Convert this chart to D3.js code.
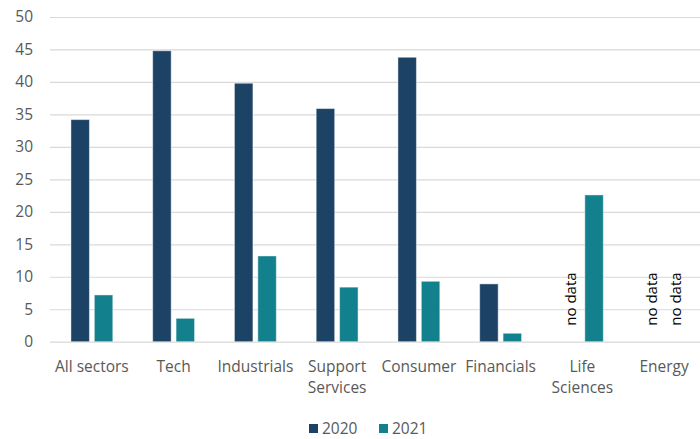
<!DOCTYPE html>
<html>
<head>
<meta charset="utf-8">
<script src="https://cdn.jsdelivr.net/npm/d3@7"></script>
<style>
  html, body { margin: 0; padding: 0; background: #ffffff; }
  svg { display: block; font-family: "Open Sans", sans-serif; }
</style>
</head>
<body>
<svg id="chart" width="700" height="439"></svg>
<script>
// Sectors along the x axis (line breaks marked with \n)
const categories = ["All sectors", "Tech", "Industrials", "Support\nServices", "Consumer", "Financials", "Life\nSciences", "Energy"];
// Series: null means no data reported for that sector/year
const seriesNames = ["2020", "2021"];
const values2020 = [34.2, 44.8, 39.8, 35.9, 43.8, 8.9, null, null];
const values2021 = [7.2, 3.6, 13.2, 8.4, 9.3, 1.3, 22.6, null];
const yTicks = [0, 5, 10, 15, 20, 25, 30, 35, 40, 45, 50];
const noDataLabel = "no data";

const colors = { "2020": "#1c4266", "2021": "#13808d" };
const textGray = "#595959";

const svg = d3.select("#chart");

const gridLeft = 50, gridRight = 700;
const y = d3.scaleLinear().domain([0, 50]).range([341.7, 17]);

const x0 = d3.scaleBand()
  .domain(categories)
  .range([51, 705])
  .paddingInner(0.488)
  .paddingOuter(0.244);

const x1 = d3.scaleBand()
  .domain(seriesNames)
  .range([0, x0.bandwidth()])
  .paddingInner(0.21);

// Horizontal gridlines with value labels
const yAxis = d3.axisLeft(y)
  .tickValues(yTicks)
  .tickSize(-(gridRight - gridLeft))
  .tickPadding(17)
  .tickFormat(d3.format("d"));

const gAxis = svg.append("g")
  .attr("transform", `translate(${gridLeft},0)`)
  .call(yAxis);
gAxis.select(".domain").remove();
gAxis.selectAll(".tick line").attr("stroke", "#d9d9d9").attr("stroke-width", 1.2);
gAxis.selectAll(".tick text")
  .attr("fill", textGray)
  .attr("font-size", "15.5px")
  .attr("font-family", "'Open Sans', sans-serif");

// Bars
const rows = categories.map((c, i) => ({ cat: c, vals: [
  { key: "2020", v: values2020[i] },
  { key: "2021", v: values2021[i] }
]}));

const groups = svg.append("g").selectAll("g")
  .data(rows)
  .join("g")
  .attr("transform", d => `translate(${x0(d.cat)},0)`);

groups.selectAll("rect")
  .data(d => d.vals.filter(e => e.v !== null))
  .join("rect")
  .attr("x", d => x1(d.key))
  .attr("width", x1.bandwidth())
  .attr("y", d => y(d.v))
  .attr("height", d => y(0) - y(d.v))
  .attr("fill", d => colors[d.key])
  .attr("stroke", "#ffffff")
  .attr("stroke-opacity", 0.45)
  .attr("stroke-width", 1);

// Vertical "no data" labels for missing values
groups.selectAll("text.nodata")
  .data(d => d.vals.filter(e => e.v === null))
  .join("text")
  .attr("class", "nodata")
  .attr("transform", d => `translate(${x1(d.key) + x1.bandwidth() / 2},${y(0) - 16}) rotate(-90)`)
  .attr("dy", "0.33em")
  .attr("fill", "#000000")
  .attr("font-size", "15px")
  .text(noDataLabel);

// Category labels
const xLabels = svg.append("g").selectAll("text")
  .data(categories)
  .join("text")
  .attr("x", d => x0(d) + x0.bandwidth() / 2)
  .attr("y", 372)
  .attr("text-anchor", "middle")
  .attr("fill", textGray)
  .attr("font-size", "15.5px");
xLabels.each(function(d) {
  const t = d3.select(this);
  d.split("\n").forEach((line, i) => {
    t.append("tspan")
      .attr("x", x0(d) + x0.bandwidth() / 2)
      .attr("dy", i === 0 ? 0 : 21)
      .text(line);
  });
});

// Legend
const legend = svg.append("g").attr("transform", "translate(309,424)");
const legendItems = legend.selectAll("g")
  .data(seriesNames)
  .join("g")
  .attr("transform", (d, i) => `translate(${i * 70},0)`);
legendItems.append("rect")
  .attr("width", 9).attr("height", 9)
  .attr("fill", d => colors[d]);
legendItems.append("text")
  .attr("x", 13).attr("y", 4.5)
  .attr("dy", "0.35em")
  .attr("fill", textGray)
  .attr("font-size", "15.5px")
  .text(d => d);
</script>
</body>
</html>
